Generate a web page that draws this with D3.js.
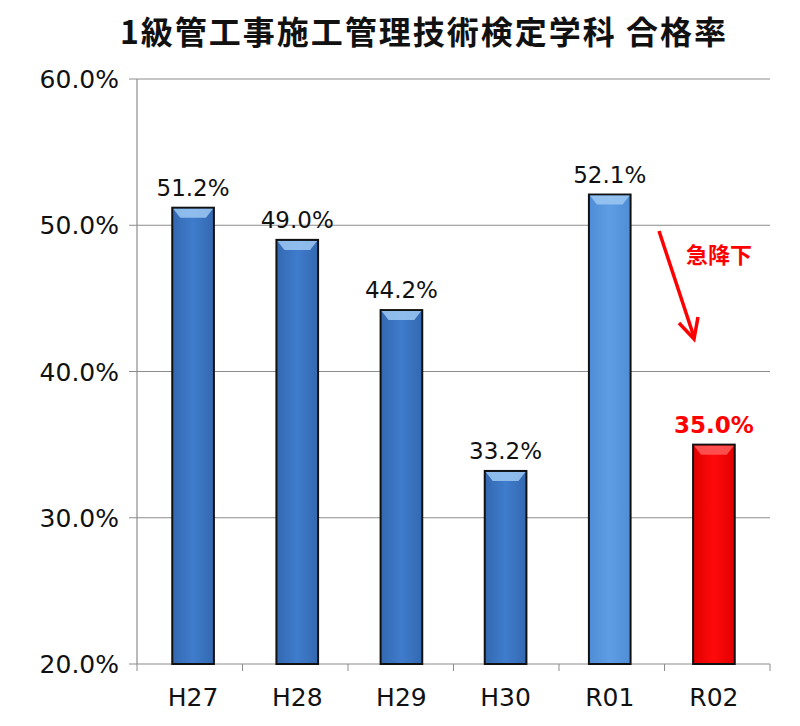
<!DOCTYPE html>
<html><head><meta charset="utf-8">
<script src="https://cdn.jsdelivr.net/npm/d3@7"></script>
<style>body{margin:0;background:#fff}</style></head>
<body><svg id="c" width="800" height="726"></svg>
<script>
const categories=["H27","H28","H29","H30","R01","R02"];
const values=[51.2,49.0,44.2,33.2,52.1,35.0];
const yTicks=[20,30,40,50,60];
const title="1級管工事施工管理技術検定学科 合格率";
const note="急降下";

const svg=d3.select("#c");
const font="'Noto Sans CJK JP','Liberation Sans',Arial,sans-serif";
const nf="'DejaVu Sans',sans-serif";
const x=d3.scaleBand().domain(categories).range([141,766]).paddingInner(0.6).paddingOuter(0.3);
const y=d3.scaleLinear().domain([20,60]).range([664,79]);
const defs=svg.append("defs");
function grad(id,c0,c1,c2){const g=defs.append("linearGradient").attr("id",id).attr("x1",0).attr("x2",1);
 g.append("stop").attr("offset",0).attr("stop-color",c0);g.append("stop").attr("offset",0.5).attr("stop-color",c1);g.append("stop").attr("offset",1).attr("stop-color",c2);}
grad("gb","#3468b0","#3f7ccc","#3468b0");
grad("gl","#4f8dd6","#5e9ce3","#4f8dd6");
grad("gr","#e00000","#ff0a0a","#e00000");

svg.append("text").attr("x",424).attr("y",44).attr("text-anchor","middle").attr("font-family",font)
 .attr("font-weight","bold").attr("font-size",32).attr("letter-spacing",2).attr("fill","#111").text(title);

svg.append("g").selectAll("line").data(yTicks).join("line")
 .attr("x1",137).attr("x2",770).attr("y1",d=>y(d)).attr("y2",d=>y(d)).attr("stroke","#8c8c8c").attr("stroke-width",1.2);
svg.append("line").attr("x1",137).attr("x2",137).attr("y1",79).attr("y2",664).attr("stroke","#8c8c8c").attr("stroke-width",1.2);
svg.append("g").selectAll("line").data(yTicks).join("line")
 .attr("x1",129).attr("x2",137).attr("y1",d=>y(d)).attr("y2",d=>y(d)).attr("stroke","#8c8c8c");
svg.append("g").selectAll("line").data(d3.range(7)).join("line")
 .attr("x1",d=>137+d*(633/6)).attr("x2",d=>137+d*(633/6)).attr("y1",664).attr("y2",671).attr("stroke","#8c8c8c");
svg.append("g").selectAll("text").data(yTicks).join("text")
 .attr("x",119).attr("y",d=>y(d)+9).attr("text-anchor","end").attr("font-family",nf)
 .attr("font-size",25).attr("fill","#111").text(d=>d.toFixed(1)+"%");
svg.append("g").selectAll("text").data(categories).join("text")
 .attr("x",d=>x(d)+x.bandwidth()/2).attr("y",706).attr("text-anchor","middle").attr("font-family",nf)
 .attr("font-size",25).attr("fill","#111").text(d=>d);

const data=categories.map((c,i)=>({c,v:values[i],i}));
const fillOf=d=>d.i===5?"url(#gr)":d.i===4?"url(#gl)":"url(#gb)";
const g=svg.append("g").selectAll("g").data(data).join("g");
g.append("rect").attr("x",d=>x(d.c)).attr("y",d=>y(d.v)).attr("width",x.bandwidth()).attr("height",d=>664-y(d.v))
 .attr("fill",fillOf).attr("stroke","#111").attr("stroke-width",2);
g.append("path").attr("d",d=>{const x0=x(d.c)+1,x1=x(d.c)+x.bandwidth()-1,t=y(d.v)+1,b=t+9;
 return `M${x0},${t}L${x1},${t}L${x1-7},${b}L${x0+7},${b}Z`;})
 .attr("fill",d=>d.i===5?"#ff5a5a":"#9cc8f2").attr("opacity",0.85);
g.append("text").attr("x",d=>x(d.c)+x.bandwidth()/2).attr("y",d=>y(d.v)-12).attr("text-anchor","middle")
 .attr("font-family",nf).attr("font-size",23).attr("font-weight",d=>d.i===5?"bold":"normal")
 .attr("fill",d=>d.i===5?"#ff0000":"#111").text(d=>d.v.toFixed(1)+"%");

svg.append("line").attr("x1",659).attr("y1",231).attr("x2",694).attr("y2",337).attr("stroke","#ff0000").attr("stroke-width",3.5);
svg.append("path").attr("d","M679,323L694,339L698,317").attr("fill","none").attr("stroke","#ff0000").attr("stroke-width",3.5);
svg.append("text").attr("x",686).attr("y",263).attr("font-family",font).attr("font-weight","bold").attr("font-size",22)
 .attr("fill","#ff0000").text(note);
</script></body></html>
